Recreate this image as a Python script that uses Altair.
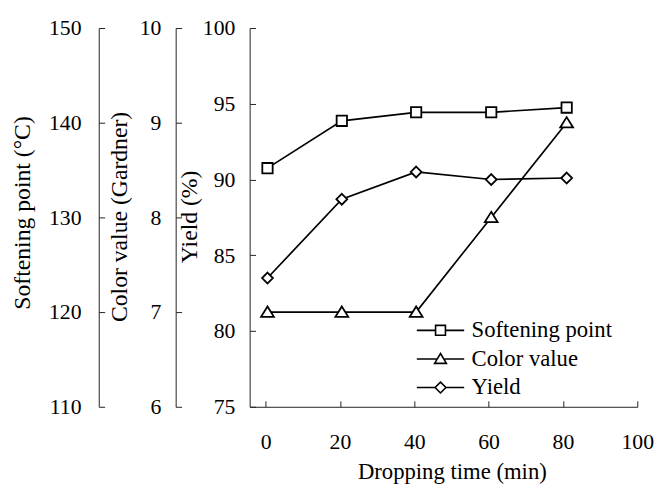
import altair as alt
import pandas as pd

# ---- data ----
time_min = [0.5, 20.5, 40.5, 60.7, 81.0]
softening_point = [135.2, 140.2, 141.1, 141.1, 141.6]
color_value = [7.0, 7.0, 7.0, 8.0, 9.0]
yield_pct = [83.5, 88.7, 90.5, 90.0, 90.1]

series_names = ["Softening point", "Color value", "Yield"]

x_ticks = [0, 20, 40, 60, 80, 100]
soft_ticks = [110, 120, 130, 140, 150]
color_ticks = [6, 7, 8, 9, 10]
yield_ticks = [75, 80, 85, 90, 95, 100]

FONT = "Liberation Serif"
FS = 22

df = pd.DataFrame({
    "time": time_min,
    "soft": softening_point,
    "color": color_value,
    "yield": yield_pct,
})

# marker shapes (unit paths)
SQ = "M-1,-1H1V1H-1Z"
TRI = "M0,-1L1.15,0.85L-1.15,0.85Z"
DIA = "M0,-1L1,0L0,1L-1,0Z"

# legend symbols: line + marker
LSQ = "M-2.4,0H-0.5M0.5,0H2.4M-0.5,-0.5H0.5V0.5H-0.5Z"
LTRI = "M-2.4,0H-0.33M0.33,0H2.4M0,-0.55L0.6,0.45L-0.6,0.45Z"
LDIA = "M-2.4,0H-0.55M0.55,0H2.4M0,-0.55L0.55,0L0,0.55L-0.55,0Z"

INWARD = {"expr": "-6"}

x_enc = alt.X(
    "time:Q",
    scale=alt.Scale(domain=[-4.3, 100], nice=False, zero=False),
    axis=alt.Axis(
        values=x_ticks, title="Dropping time (min)", grid=False,
        labelFlush=False, labelOverlap=False, tickSize=INWARD,
        labelPadding=31.5, titleX=205, titleY=73, titleFontSize=23,
        titleBaseline="alphabetic", titleAlign="center",
    ),
)


def y_axis(title, values, offset, title_x, title_y, label_pad):
    return alt.Axis(
        orient="left", offset=offset, values=values, title=title, grid=False,
        tickSize=INWARD, labelPadding=label_pad, titleX=title_x, titleY=title_y,
        titleAngle=270, titleBaseline="alphabetic", titleAlign="center",
        titleFontSize=24, labelFlush=False, labelOverlap=False,
    )


def series_chart(field, shape, size, domain, axis):
    return alt.Chart(df).mark_line(
        color="black", strokeWidth=1.7,
        point=alt.OverlayMarkDef(
            shape=shape, size=size, filled=True, fill="white",
            stroke="black", strokeWidth=1.8, opacity=1,
        ),
    ).encode(
        x=x_enc,
        y=alt.Y(f"{field}:Q",
                scale=alt.Scale(domain=domain, nice=False, zero=False),
                axis=axis),
    )


soft = series_chart("soft", SQ, 110, [110, 150],
                    y_axis("Softening point (°C)", soft_ticks, 153, -70.5, 187, 24))
color = series_chart("color", TRI, 128, [6, 10],
                     y_axis("Color value (Gardner)", color_ticks, 75, -49.5, 191, 21))
yld = series_chart("yield", DIA, 121, [75, 100],
                   y_axis("Yield (%)", yield_ticks, 0, -54, 191, 21))

leg_df = pd.DataFrame({"series": series_names, "time": [50, 50, 50], "v": [-10, -10, -10]})
legend_layer = alt.Chart(leg_df).mark_point(
    clip=True, color="black", filled=False, strokeWidth=1.6, opacity=1
).encode(
    x=x_enc,
    y=alt.Y("v:Q", scale=alt.Scale(domain=[0, 1]), axis=None),
    shape=alt.Shape(
        "series:N",
        scale=alt.Scale(domain=series_names, range=[LSQ, LTRI, LDIA]),
        legend=alt.Legend(
            title=None, orient="none", legendX=182, legendY=295,
            labelFont=FONT, labelFontSize=23, labelColor="black",
            symbolSize=400, symbolStrokeWidth=1.6, symbolStrokeColor="black",
            symbolFillColor="white", labelOffset=20, rowPadding=5, padding=0,
        ),
    ),
)

chart = alt.layer(soft, color, yld, legend_layer).resolve_scale(
    y="independent"
).properties(
    width=393, height=384,
    autosize=alt.AutoSizeParams(type="none"),
    padding={"left": 245, "top": 17, "right": 20, "bottom": 76},
).configure_axis(
    labelFont=FONT, titleFont=FONT, labelFontSize=FS,
    labelColor="black", titleColor="black", titleFontWeight="normal",
    domainColor="#222", tickColor="#222", domainWidth=1, tickWidth=1,
).configure_view(strokeWidth=0)

chart.save("out.html", embed_options={"renderer": "svg", "actions": False})
